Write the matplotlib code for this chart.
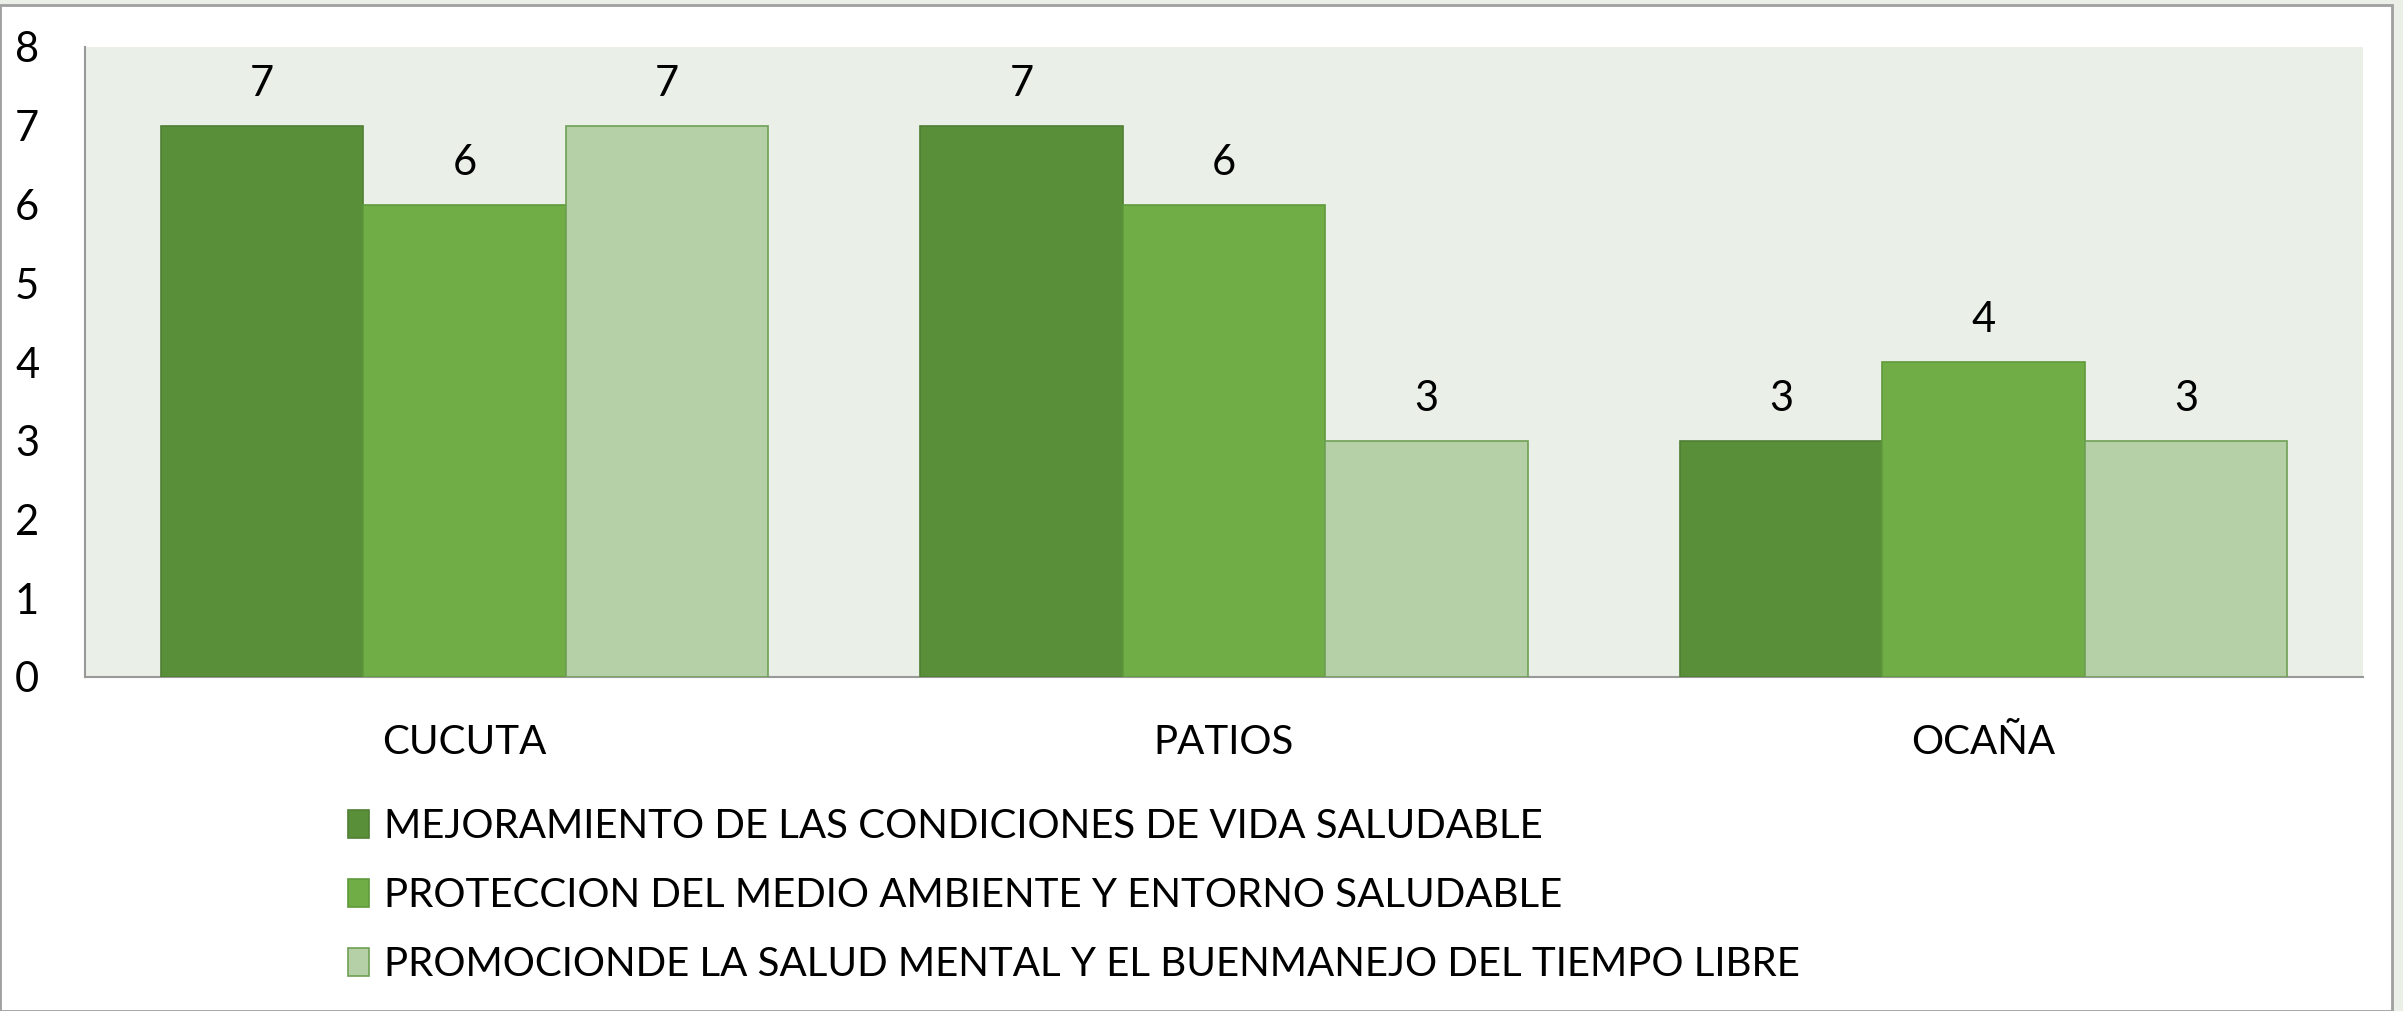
import matplotlib
matplotlib.use("Agg")
import matplotlib.pyplot as plt
import numpy as np
from matplotlib.patches import Rectangle

categories = ["CUCUTA", "PATIOS", "OCAÑA"]
series_names = [
    "MEJORAMIENTO DE LAS CONDICIONES DE VIDA SALUDABLE",
    "PROTECCION DEL MEDIO AMBIENTE Y ENTORNO SALUDABLE",
    "PROMOCIONDE LA SALUD MENTAL Y EL BUENMANEJO DEL TIEMPO LIBRE",
]
mejoramiento = [7, 7, 3]
proteccion = [6, 6, 4]
promocion = [7, 3, 3]
yticks = [0, 1, 2, 3, 4, 5, 6, 7, 8]

values = [mejoramiento, proteccion, promocion]
colors = ["#5a8f3a", "#70ad47", "#b5cfa6"]
edges = ["#4f7f33", "#5f9a3c", "#6f9f55"]

plt.rcParams['font.family'] = ['Lato', 'DejaVu Sans']

W, H = 2403, 1011
fig = plt.figure(figsize=(W / 100, H / 100), dpi=100)
fig.patch.set_facecolor("#eaefe8")
# white chart area with border
fig.patches.append(Rectangle((0, 0), 2392 / W, 1 - 5 / H, transform=fig.transFigure,
                             facecolor="white", edgecolor="#a0a0a0", linewidth=2, zorder=-5))

left, right, top, bottom = 85, 2363, 47, 677
ax = fig.add_axes([left / W, 1 - bottom / H, (right - left) / W, (bottom - top) / H])
ax.set_zorder(2)
ax.set_facecolor("#eaefe8")

x = np.arange(len(categories))
bw = 0.8 / 3
handles = []
for i, (vals, c, e, name) in enumerate(zip(values, colors, edges, series_names)):
    bars = ax.bar(x + (i - 1) * bw, vals, width=bw, color=c, edgecolor=e,
                  linewidth=1.2, label=name, zorder=3)
    handles.append(bars)
    for xi, v in zip(x + (i - 1) * bw, vals):
        ax.text(xi, v + 0.53, str(v), ha="center", va="center", fontsize=30, color="black")

ax.set_xlim(-0.5, 2.5)
ax.set_ylim(0, 8)
ax.set_yticks(yticks)
ax.set_yticklabels([str(t) for t in yticks], fontsize=30)
ax.set_xticks(x)
ax.set_xticklabels(categories, fontsize=29)
ax.tick_params(axis="y", length=0, pad=33)
ax.tick_params(axis="x", length=0, pad=34)
for s in ["top", "right"]:
    ax.spines[s].set_visible(False)
ax.spines["left"].set_color("#999999")
ax.spines["bottom"].set_color("#999999")
ax.spines["left"].set_linewidth(1.5)
ax.spines["bottom"].set_linewidth(1.5)

leg = fig.legend(handles=handles, labels=series_names, loc="upper left",
                 bbox_to_anchor=(312 / W, 1 - 772 / H), frameon=False, fontsize=29,
                 handlelength=0.52, handleheight=0.68, handletextpad=0.38,
                 labelspacing=0.79)

fig.savefig("out.png", dpi=100, facecolor=fig.get_facecolor())
